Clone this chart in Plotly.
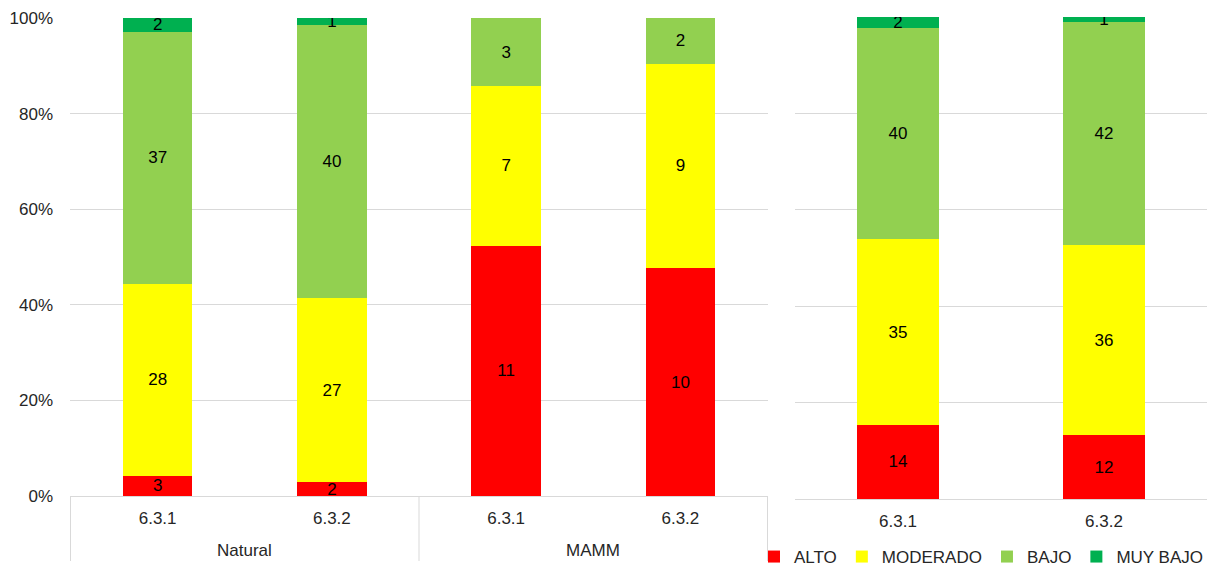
import plotly.graph_objects as go

# ---- data ----
groups = ["Natural", "Natural", "MAMM", "MAMM"]
codes_left = ["6.3.1", "6.3.2", "6.3.1", "6.3.2"]
codes_right = ["6.3.1", "6.3.2"]

series = ["ALTO", "MODERADO", "BAJO", "MUY BAJO"]
colors = ["#FF0000", "#FFFF00", "#92D050", "#00B050"]

left_alto = [3, 2, 11, 10]
left_moderado = [28, 27, 7, 9]
left_bajo = [37, 40, 3, 2]
left_muybajo = [2, 1, 0, 0]

right_alto = [14, 12]
right_moderado = [35, 36]
right_bajo = [40, 42]
right_muybajo = [2, 1]

y_ticks = [0, 20, 40, 60, 80, 100]

left_vals = [left_alto, left_moderado, left_bajo, left_muybajo]
right_vals = [right_alto, right_moderado, right_bajo, right_muybajo]

FONT = "Liberation Sans, Arial, sans-serif"
FS = 17
W, H = 1207, 570
GRID = "#D9D9D9"
TXT = "#262626"

# unique category keys for the left (two-level) axis
left_keys = [f"{g}|{c}" for g, c in zip(groups, codes_left)]

fig = go.Figure()


def lbl(vals):
    return [str(v) if v else "" for v in vals]


for name, col, lv, rv in zip(series, colors, left_vals, right_vals):
    fig.add_trace(go.Bar(
        x=left_keys, y=lv, name=name, marker_color=col,
        marker_line_width=0, text=lbl(lv), textposition="inside",
        insidetextanchor="middle", constraintext="none", textangle=0,
        textfont=dict(family=FONT, size=FS, color="#000000"),
        legendgroup=name, showlegend=True, xaxis="x", yaxis="y",
        hoverinfo="skip"))
    fig.add_trace(go.Bar(
        x=codes_right, y=rv, name=name, marker_color=col,
        marker_line_width=0, text=lbl(rv), textposition="inside",
        insidetextanchor="middle", constraintext="none", textangle=0,
        textfont=dict(family=FONT, size=FS, color="#000000"),
        legendgroup=name, showlegend=False, xaxis="x2", yaxis="y2",
        hoverinfo="skip"))

# group labels and dividers for the two-level category axis
unique_groups = list(dict.fromkeys(groups))
annotations = []
shapes = []
y_axis_px = 496
for g in unique_groups:
    idx = [i for i, gg in enumerate(groups) if gg == g]
    annotations.append(dict(
        x=sum(idx) / len(idx), xref="x", y=1 - 550 / H, yref="paper",
        text=g, showarrow=False, xanchor="center", yanchor="middle",
        font=dict(family=FONT, size=FS, color=TXT)))
bounds = [-0.5] + [i + 0.5 for i in range(len(groups) - 1)
                   if groups[i] != groups[i + 1]] + [len(groups) - 0.5]
for b in bounds:
    shapes.append(dict(type="line", xref="x", x0=b, x1=b, yref="paper",
                       y0=1 - y_axis_px / H, y1=1 - 561 / H,
                       line=dict(color=GRID, width=1)))

fig.update_layout(
    width=W, height=H,
    margin=dict(l=0, r=0, t=0, b=0, autoexpand=False),
    paper_bgcolor="white", plot_bgcolor="white",
    barmode="stack", barnorm="percent", bargap=0.6,
    font=dict(family=FONT, size=FS, color=TXT),
    xaxis=dict(domain=[70 / W, 768 / W], type="category",
               tickvals=left_keys, ticktext=codes_left,
               showline=True, linecolor=GRID, linewidth=1,
               ticks="", ticklabelstandoff=7,
               tickfont=dict(size=FS, color=TXT),
               anchor="y", automargin=False),
    yaxis=dict(domain=[1 - 496 / H, 1 - 18 / H], range=[0, 100],
               tickvals=y_ticks, ticktext=[f"{v}%" for v in y_ticks],
               showgrid=True, gridcolor=GRID, gridwidth=1,
               zeroline=False, showline=False, ticks="",
               ticklabelstandoff=16,
               tickfont=dict(size=FS, color=TXT), anchor="x",
               automargin=False),
    xaxis2=dict(domain=[795 / W, 1.0], type="category",
                showline=True, linecolor=GRID, linewidth=1,
                ticks="", ticklabelstandoff=7,
                tickfont=dict(size=FS, color=TXT),
                anchor="y2", automargin=False),
    yaxis2=dict(domain=[1 - 499 / H, 1 - 17 / H], range=[0, 100],
                tickvals=y_ticks, showticklabels=False,
                showgrid=True, gridcolor=GRID, gridwidth=1,
                zeroline=False, showline=False, anchor="x2",
                automargin=False),
    legend=dict(orientation="h", x=754 / W, xanchor="left",
                y=1 - 557 / H, yanchor="middle",
                font=dict(size=FS, color=TXT),
                traceorder="normal", itemclick=False,
                bgcolor="rgba(0,0,0,0)"),
    annotations=annotations,
    shapes=shapes,
)

fig.write_html("out.html")
